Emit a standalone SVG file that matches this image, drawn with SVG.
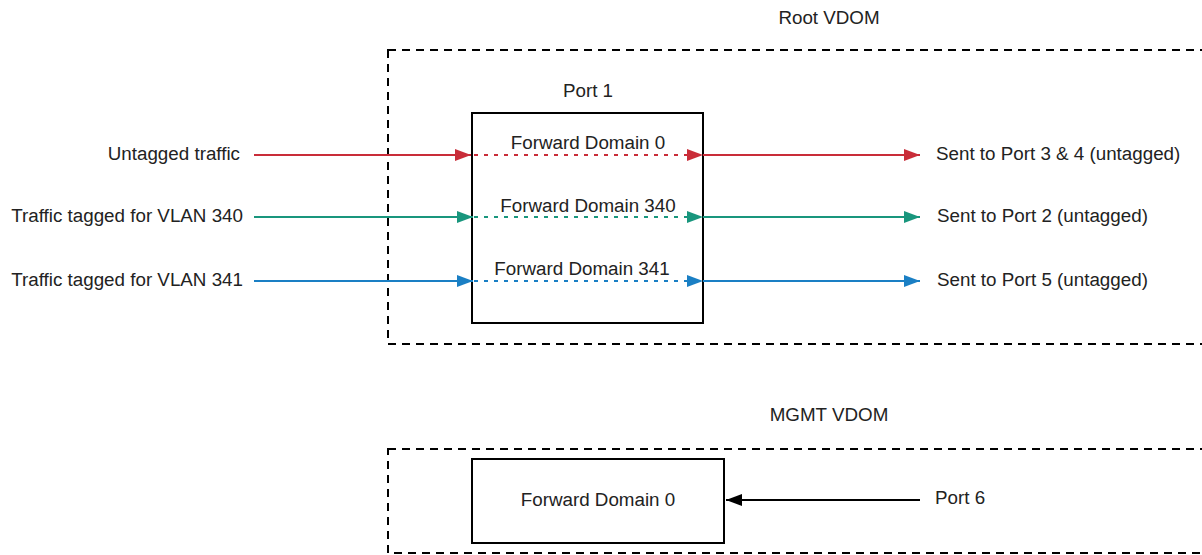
<svg xmlns="http://www.w3.org/2000/svg" width="1202" height="555" viewBox="0 0 1202 555">
<style>
text{font-family:"Liberation Sans",Arial,sans-serif;font-size:18.8px;fill:#222}
.box{fill:#fff;stroke:#000;stroke-width:2}
.vdom{fill:none;stroke:#000;stroke-width:2;stroke-dasharray:8 6}
.r{stroke:#c92d39}.g{stroke:#19967d}.b{stroke:#1a7fc4}.k{stroke:#000}
.ln{stroke-width:2;fill:none}
.dot{stroke-dasharray:4 6}
</style>
<defs>
<marker id="ar" viewBox="0 0 16 12" refX="16" refY="6" markerWidth="16" markerHeight="12" markerUnits="userSpaceOnUse" orient="auto"><path d="M0,0 L16,6 L0,12 Z" fill="#c92d39"/></marker>
<marker id="ag" viewBox="0 0 16 12" refX="16" refY="6" markerWidth="16" markerHeight="12" markerUnits="userSpaceOnUse" orient="auto"><path d="M0,0 L16,6 L0,12 Z" fill="#19967d"/></marker>
<marker id="ab" viewBox="0 0 16 12" refX="16" refY="6" markerWidth="16" markerHeight="12" markerUnits="userSpaceOnUse" orient="auto"><path d="M0,0 L16,6 L0,12 Z" fill="#1a7fc4"/></marker>
<marker id="ak" viewBox="0 0 16 12" refX="16" refY="6" markerWidth="16" markerHeight="12" markerUnits="userSpaceOnUse" orient="auto"><path d="M0,0 L16,6 L0,12 Z" fill="#000"/></marker>
</defs>
<g id="root-vdom">
<rect class="vdom" x="388" y="50" width="830" height="294"/>
<text x="829" y="24" text-anchor="middle">Root VDOM</text>
</g>
<g id="mgmt-vdom">
<rect class="vdom" x="388" y="449" width="830" height="104"/>
<text x="829" y="421" text-anchor="middle">MGMT VDOM</text>
</g>
<g id="port1">
<rect class="box" x="472" y="113" width="231" height="210"/>
<text x="588" y="97" text-anchor="middle">Port 1</text>
<text x="588" y="149" text-anchor="middle">Forward Domain 0</text>
<text x="588" y="212" text-anchor="middle">Forward Domain 340</text>
<text x="582" y="275" text-anchor="middle">Forward Domain 341</text>
</g>
<g id="mgmt-fd0">
<rect class="box" x="472" y="459" width="252" height="84"/>
<text x="598" y="506" text-anchor="middle">Forward Domain 0</text>
</g>
<g id="labels">
<text x="240" y="160" text-anchor="end">Untagged traffic</text>
<text x="243" y="222" text-anchor="end">Traffic tagged for VLAN 340</text>
<text x="243" y="286" text-anchor="end">Traffic tagged for VLAN 341</text>
<text x="936" y="160">Sent to Port 3 &amp; 4 (untagged)</text>
<text x="937" y="222">Sent to Port 2 (untagged)</text>
<text x="937" y="286">Sent to Port 5 (untagged)</text>
<text x="935" y="504">Port 6</text>
</g>
<g id="connectors">
<line class="ln r" x1="254" y1="155" x2="471" y2="155" marker-end="url(#ar)"/>
<line class="ln r dot" x1="474" y1="155" x2="703" y2="155" marker-end="url(#ar)"/>
<line class="ln r" x1="703" y1="155" x2="920" y2="155" marker-end="url(#ar)"/>
<line class="ln g" x1="254" y1="217" x2="473" y2="217" marker-end="url(#ag)"/>
<line class="ln g dot" x1="474" y1="217" x2="703" y2="217" marker-end="url(#ag)"/>
<line class="ln g" x1="703" y1="217" x2="920" y2="217" marker-end="url(#ag)"/>
<line class="ln b" x1="254" y1="281" x2="473" y2="281" marker-end="url(#ab)"/>
<line class="ln b dot" x1="474" y1="281" x2="703" y2="281" marker-end="url(#ab)"/>
<line class="ln b" x1="703" y1="281" x2="920" y2="281" marker-end="url(#ab)"/>
<line class="ln k" x1="920" y1="500" x2="726" y2="500" marker-end="url(#ak)"/>
</g>
</svg>
